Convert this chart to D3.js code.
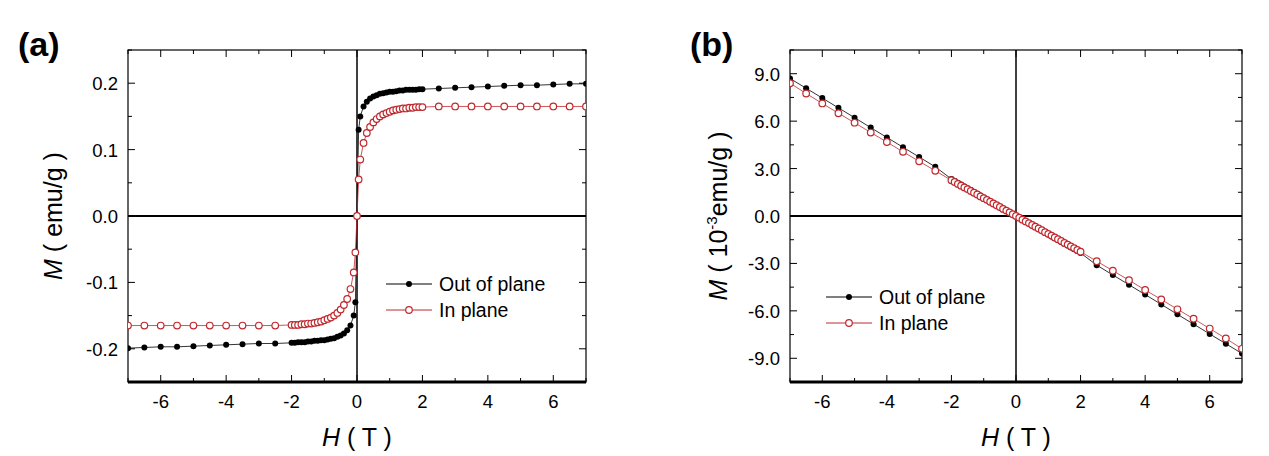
<!DOCTYPE html>
<html><head><meta charset="utf-8">
<script src="https://cdn.jsdelivr.net/npm/d3@7"></script>
<style>body{margin:0;background:#fff}text{font-family:"Liberation Sans",Arial,sans-serif}</style>
</head><body>
<svg id="chart" width="1269" height="456"></svg>
<script>
// panel (a) field grid and magnetisation
var hA=[-7,-6.5,-6,-5.5,-5,-4.5,-4,-3.5,-3,-2.5,
-2,-1.9,-1.8,-1.7,-1.6,-1.5,-1.4,-1.3,-1.2,-1.1,-1,-0.9,-0.8,-0.7,-0.6,-0.5,-0.4,-0.3,-0.2,-0.1,
-0.05,0,0.05,
0.1,0.2,0.3,0.4,0.5,0.6,0.7,0.8,0.9,1,1.1,1.2,1.3,1.4,1.5,1.6,1.7,1.8,1.9,2,
2.5,3,3.5,4,4.5,5,5.5,6,6.5,7]
var outA=[-0.199,-0.198,-0.197,-0.197,-0.196,-0.195,-0.194,-0.193,-0.192,-0.192,
-0.191,-0.191,-0.190,-0.190,-0.190,-0.189,-0.189,-0.188,-0.188,-0.187,-0.187,-0.186,-0.185,-0.184,-0.182,-0.180,-0.177,-0.172,-0.165,-0.150,
-0.130,0,0.130,
0.150,0.165,0.172,0.177,0.180,0.182,0.184,0.185,0.186,0.187,0.187,0.188,0.189,0.189,0.190,0.190,0.190,0.190,0.191,0.191,
0.192,0.193,0.194,0.195,0.196,0.197,0.197,0.198,0.199,0.199]
var inA=[-0.165,-0.165,-0.165,-0.165,-0.165,-0.165,-0.165,-0.165,-0.165,-0.165,
-0.164,-0.164,-0.164,-0.163,-0.163,-0.162,-0.162,-0.161,-0.160,-0.159,-0.157,-0.155,-0.153,-0.150,-0.146,-0.141,-0.134,-0.125,-0.110,-0.085,
-0.055,0,0.055,
0.085,0.110,0.125,0.134,0.141,0.146,0.150,0.153,0.155,0.157,0.159,0.160,0.161,0.162,0.162,0.163,0.163,0.164,0.164,0.164,
0.165,0.165,0.165,0.165,0.165,0.165,0.165,0.165,0.165,0.165]

// panel (b)
var hB=[-7,-6.5,-6,-5.5,-5,-4.5,-4,-3.5,-3,-2.5,
-2,-1.9,-1.8,-1.7,-1.6,-1.5,-1.4,-1.3,-1.2,-1.1,-1,-0.9,-0.8,-0.7,-0.6,-0.5,-0.4,-0.3,-0.2,-0.1,
0,0.1,0.2,0.3,0.4,0.5,0.6,0.7,0.8,0.9,1,1.1,1.2,1.3,1.4,1.5,1.6,1.7,1.8,1.9,2,
2.5,3,3.5,4,4.5,5,5.5,6,6.5,7]
var outB=[8.70,8.08,7.46,6.84,6.22,5.59,4.97,4.35,3.73,3.11,
2.34,2.22,2.11,1.99,1.87,1.76,1.64,1.52,1.40,1.29,1.17,1.05,0.94,0.82,0.70,0.59,0.47,0.35,0.23,0.12,
0,-0.12,-0.23,-0.35,-0.47,-0.59,-0.70,-0.82,-0.94,-1.05,-1.17,-1.29,-1.40,-1.52,-1.64,-1.76,-1.87,-1.99,-2.11,-2.22,-2.34,
-3.11,-3.73,-4.35,-4.97,-5.59,-6.22,-6.84,-7.46,-8.08,-8.70]
var inB=[8.40,7.75,7.12,6.50,5.90,5.28,4.68,4.06,3.46,2.86,
2.26,2.15,2.03,1.92,1.81,1.70,1.58,1.47,1.36,1.24,1.13,1.02,0.90,0.79,0.68,0.57,0.45,0.34,0.23,0.11,
0,-0.11,-0.23,-0.34,-0.45,-0.57,-0.68,-0.79,-0.90,-1.02,-1.13,-1.24,-1.36,-1.47,-1.58,-1.70,-1.81,-1.92,-2.03,-2.15,-2.26,
-2.86,-3.46,-4.06,-4.68,-5.28,-5.90,-6.50,-7.12,-7.75,-8.40]

var xTicks=[-6,-4,-2,0,2,4,6]
var yTicksA=[-0.2,-0.1,0.0,0.1,0.2]
var yTicksB=[-9,-6,-3,0,3,6,9]
var red="#c0282d"

var svg=d3.select("#chart")

function panel(o){
  var g=svg.append("g")
  var x=d3.scaleLinear().domain([-7,7]).range([o.left,o.right])
  var y=d3.scaleLinear().domain(o.ydom).range([382,50])
  var clip=g.append("clipPath").attr("id","c"+o.id).append("rect")
    .attr("x",o.left).attr("y",50).attr("width",o.right-o.left).attr("height",332)
  // ticks on four sides, inward
  var xm=d3.range(-7,7.01,1), ym=d3.range(o.ydom[0],o.ydom[1]+1e-9,o.minor)
  xm.forEach(function(t){
    var major=t%2==0, L=major?7:4
    g.append("line").attr("x1",x(t)).attr("x2",x(t)).attr("y1",382).attr("y2",382-L).attr("stroke","#000")
    g.append("line").attr("x1",x(t)).attr("x2",x(t)).attr("y1",50).attr("y2",50+L).attr("stroke","#000")
  })
  ym.forEach(function(t){
    var major=Math.abs(t/o.major-Math.round(t/o.major))<1e-6, L=major?7:4
    g.append("line").attr("y1",y(t)).attr("y2",y(t)).attr("x1",o.left).attr("x2",o.left+L).attr("stroke","#000")
    g.append("line").attr("y1",y(t)).attr("y2",y(t)).attr("x1",o.right).attr("x2",o.right-L).attr("stroke","#000")
  })
  g.selectAll(".xl").data(xTicks).enter().append("text").attr("x",x).attr("y",408)
    .attr("text-anchor","middle").attr("font-size",18.5).text(function(d){return d})
  g.selectAll(".yl").data(o.yticks).enter().append("text").attr("x",o.left-10).attr("y",function(d){return y(d)+7})
    .attr("text-anchor","end").attr("font-size",18.5).text(o.fmt)
  g.append("rect").attr("x",o.left).attr("y",50).attr("width",o.right-o.left).attr("height",332)
    .attr("fill","none").attr("stroke","#000").attr("stroke-width",1.2)
  g.append("line").attr("x1",o.left).attr("x2",o.right).attr("y1",382).attr("y2",382).attr("stroke","#000").attr("stroke-width",3)
  g.append("line").attr("x1",o.left).attr("x2",o.right).attr("y1",y(0)).attr("y2",y(0)).attr("stroke","#000").attr("stroke-width",2)
  g.append("line").attr("x1",x(0)).attr("x2",x(0)).attr("y1",50).attr("y2",382).attr("stroke","#000").attr("stroke-width",1.5)

  var dg=g.append("g").attr("clip-path","url(#c"+o.id+")")
  var line=d3.line().x(function(d){return x(d[0])}).y(function(d){return y(d[1])})
  var sOut=o.h.map(function(h,i){return [h,o.out[i]]})
  var sIn=o.h.map(function(h,i){return [h,o.inn[i]]})
  dg.append("path").datum(sOut).attr("d",line).attr("fill","none").attr("stroke","#000").attr("stroke-width",0.8)
  dg.append("path").datum(sIn).attr("d",line).attr("fill","none").attr("stroke",red).attr("stroke-width",0.8)
  dg.selectAll(".po").data(sOut).enter().append("circle").attr("cx",function(d){return x(d[0])}).attr("cy",function(d){return y(d[1])})
    .attr("r",3).attr("fill","#000")
  dg.selectAll(".pi").data(sIn).enter().append("circle").attr("cx",function(d){return x(d[0])}).attr("cy",function(d){return y(d[1])})
    .attr("r",3.3).attr("fill","#fff").attr("stroke",red).attr("stroke-width",1.2)

  // legend
  var lx=o.legX, ly=o.legY
  g.append("line").attr("x1",lx).attr("x2",lx+46).attr("y1",ly).attr("y2",ly).attr("stroke","#000")
  g.append("circle").attr("cx",lx+23).attr("cy",ly).attr("r",3).attr("fill","#000")
  g.append("text").attr("x",lx+53).attr("y",ly+7).attr("font-size",19.5).text("Out of plane")
  g.append("line").attr("x1",lx).attr("x2",lx+46).attr("y1",ly+26).attr("y2",ly+26).attr("stroke",red)
  g.append("circle").attr("cx",lx+23).attr("cy",ly+26).attr("r",3.3).attr("fill","#fff").attr("stroke",red).attr("stroke-width",1.2)
  g.append("text").attr("x",lx+53).attr("y",ly+33).attr("font-size",19.5).text("In plane")

  // titles
  var xt=g.append("text").attr("x",x(0)).attr("y",446).attr("text-anchor","middle").attr("font-size",25)
  xt.append("tspan").attr("font-style","italic").text("H")
  xt.append("tspan").text(" ( T )")
  var yt=g.append("text").attr("transform","translate("+o.ytX+",216) rotate(-90)").attr("text-anchor","middle").attr("font-size",25)
  yt.append("tspan").attr("font-style","italic").text("M")
  if(o.id=="b"){
    yt.append("tspan").text(" ( 10")
    yt.append("tspan").attr("font-size",15).attr("dy",-10).text("-3")
    yt.append("tspan").attr("dy",10).text("emu/g )")
  } else yt.append("tspan").text(" ( emu/g )")
  g.append("text").attr("x",o.labX).attr("y",56).attr("font-size",34).attr("font-weight","bold").text("("+o.id+")")
}

panel({id:"a",left:128,right:586,ydom:[-0.25,0.25],major:0.1,minor:0.05,yticks:yTicksA,
  fmt:function(d){return d3.format(".1f")(d).replace("−","-")},h:hA,out:outA,inn:inA,legX:386,legY:284,ytX:62,labX:18})
panel({id:"b",left:790,right:1242,ydom:[-10.5,10.5],major:3,minor:1.5,yticks:yTicksB,
  fmt:function(d){return d3.format(".1f")(d).replace("−","-")},h:hB,out:outB,inn:inB,legX:826,legY:297,ytX:727,labX:690})
</script>
</body></html>
